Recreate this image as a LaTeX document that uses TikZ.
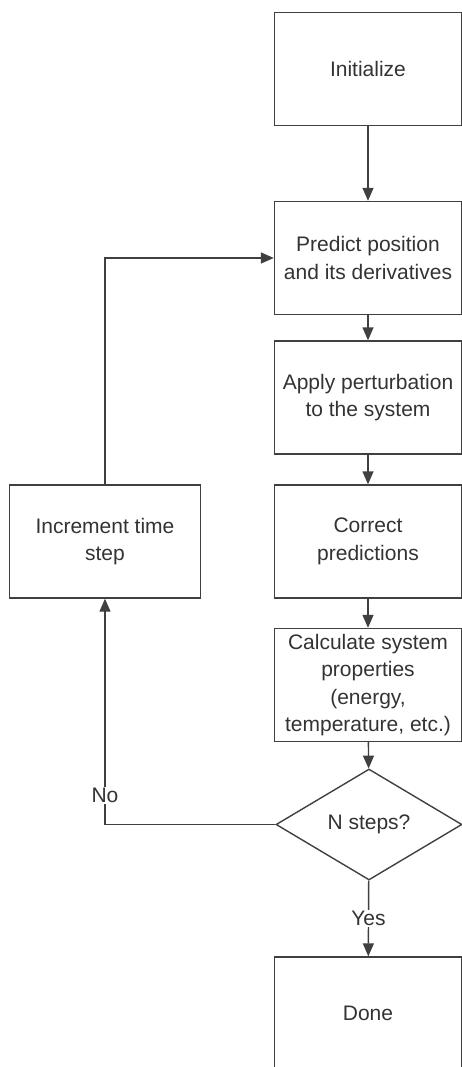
\documentclass[tikz,border=0pt]{standalone}
\usepackage{fontspec}
\setmainfont{Liberation Sans}
\usetikzlibrary{shapes.geometric,arrows.meta}

\begin{document}
\begin{tikzpicture}[x=1pt, y=-1pt,
    every node/.style={draw=black!75, line width=1.4pt, text=black!80, align=center,
      font=\fontsize{21}{27.5}\selectfont},
    box/.style={rectangle, minimum width=187pt, minimum height=113pt, inner sep=2pt},
    arr/.style={draw=black!75, line width=1.4pt, -{Triangle[width=11pt,length=13pt]}},
    lbl/.style={draw=none, fill=white, inner sep=1pt}]
      \useasboundingbox (0,0) rectangle (462,1067);
      \clip (0,0) rectangle (462,1067);
      \node[box] (init) at (368,69) {Initialize};
      \node[box] (pred) at (368,258) {Predict position\\and its derivatives};
      \node[box] (pert) at (368,397.5) {Apply perturbation\\to the system};
      \node[box] (corr) at (368,541.5) {Correct\\predictions};
      \node[box] (calc) at (368,685) {Calculate system\\properties\\(energy,\\temperature, etc.)};
      \node[diamond, minimum width=186pt, minimum height=111pt, inner sep=0pt] (chk) at (369,824.5) {N steps?};
      \node[box] (done) at (368,1013.5) {Done};
      \node[box, minimum width=191pt] (incr) at (105,541.5) {Increment time\\step};
    
      \draw[arr] (init) -- (pred);
      \draw[arr] (pred) -- (pert);
      \draw[arr] (pert) -- (corr);
      \draw[arr] (corr) -- (calc);
      \draw[arr] (calc) -- (chk);
      \draw[arr] (chk) -- node[lbl] {Yes} (done);
      \draw[arr] (chk.west) -| node[lbl, pos=0.564] {No} (incr.south);
      \draw[arr] (incr.north) |- (pred.west);
  
    \end{tikzpicture}
\end{document}
